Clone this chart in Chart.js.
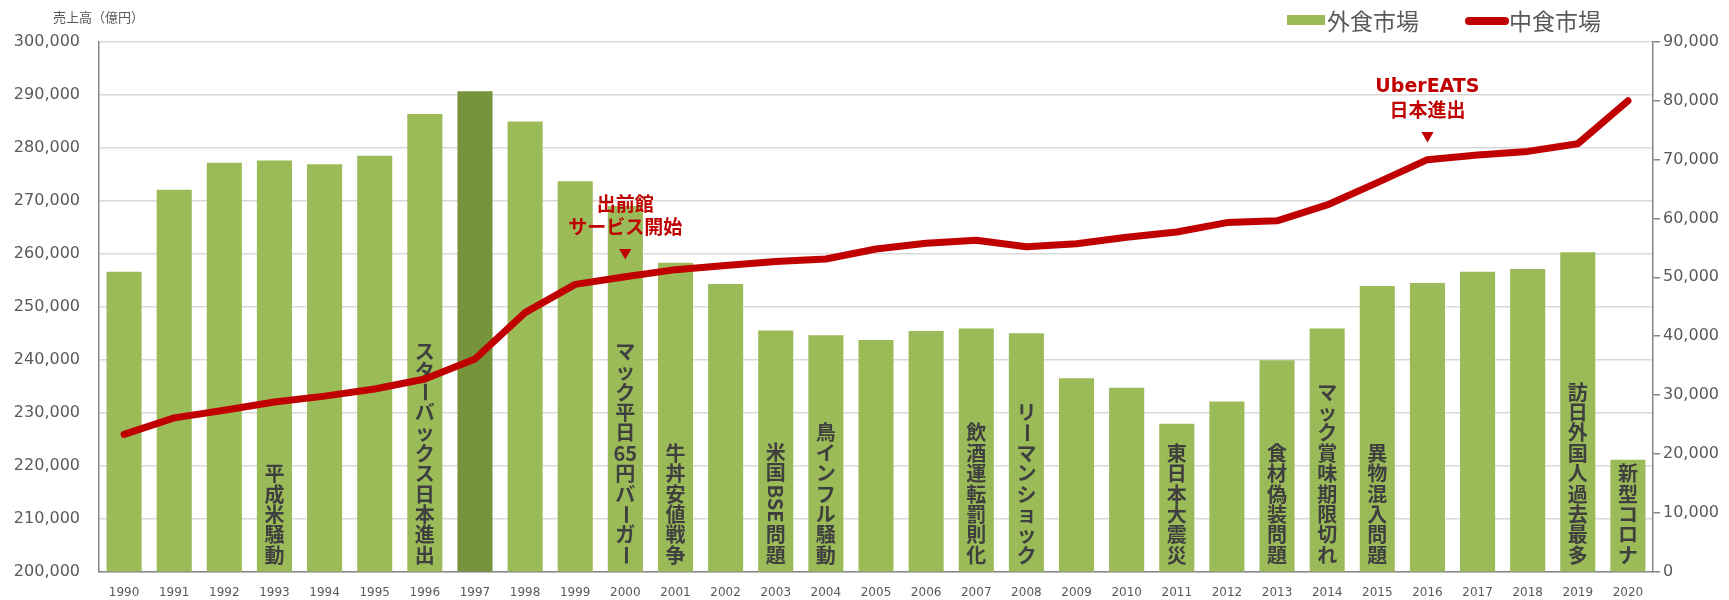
<!DOCTYPE html>
<html lang="ja">
<head>
<meta charset="utf-8">
<title>外食市場と中食市場の推移</title>
<script src="https://cdn.jsdelivr.net/npm/chart.js@4.4.1/dist/chart.umd.min.js"></script>
<style>
  html, body { margin: 0; padding: 0; background: #fff; }
  #wrap { width: 1729px; height: 600px; }
</style>
</head>
<body>
<div id="wrap"><canvas id="marketChart" width="1729" height="600"></canvas></div>
<script>
// Years (x axis)
const years = ["1990", "1991", "1992", "1993", "1994", "1995", "1996", "1997", "1998", "1999",
  "2000", "2001", "2002", "2003", "2004", "2005", "2006", "2007", "2008", "2009",
  "2010", "2011", "2012", "2013", "2014", "2015", "2016", "2017", "2018", "2019", "2020"];

// 外食市場 - bars, left axis (億円)
const gaishoku = [256600, 272100, 277200, 277600, 276900, 278500, 286400, 290700, 285000, 273700,
  269000, 258300, 254300, 245500, 244600, 243700, 245400, 245900, 245000, 236500,
  234700, 227900, 232100, 239900, 245900, 253900, 254500, 256600, 257100, 260300, 221100];

// 中食市場 - line, right axis (億円)
const nakashoku = [23300, 26100, 27400, 28800, 29800, 31000, 32700, 36100, 44000, 48800,
  50100, 51300, 52000, 52700, 53100, 54800, 55800, 56300, 55200, 55700,
  56800, 57700, 59300, 59600, 62300, 66100, 70000, 70800, 71400, 72700, 80000];

// events written vertically inside the bars
const eventYears = ["1993", "1996", "2000", "2001", "2003", "2004", "2007", "2008",
  "2011", "2013", "2014", "2015", "2019", "2020"];
const eventTexts = ["平成米騒動", "スターバックス日本進出", "マック平日65円バーガー", "牛丼安値戦争",
  "米国BSE問題", "鳥インフル騒動", "飲酒運転罰則化", "リーマンショック",
  "東日本大震災", "食材偽装問題", "マック賞味期限切れ", "異物混入問題", "訪日外国人過去最多", "新型コロナ"];

// red callouts above the line
const calloutYears = ["2000", "2016"];
const calloutTexts = [["出前館", "サービス開始"], ["UberEATS", "日本進出"]];

const highlightYear = "1997";
const leftMin = 200000, leftMax = 300000, leftStep = 10000;
const rightMin = 0, rightMax = 90000, rightStep = 10000;

const JP = "'Noto Sans CJK JP', sans-serif";
const LATIN = "'DejaVu Sans', sans-serif";
const GREEN = "#9BBB59";
const DARK_GREEN = "#77933C";
const RED = "#C00000";
const GREY_TEXT = "#595959";

// split a label into cells for vertical writing
function splitCells(text) {
  const cells = [];
  let i = 0;
  while (i < text.length) {
    const ch = text[i];
    if (/[0-9]/.test(ch)) {
      let j = i;
      while (j < text.length && /[0-9]/.test(text[j])) j++;
      cells.push({ text: text.slice(i, j), kind: "upright" });
      i = j;
    } else if (/[A-Za-z]/.test(ch)) {
      let j = i;
      while (j < text.length && /[A-Za-z]/.test(text[j])) j++;
      cells.push({ text: text.slice(i, j), kind: "sideways" });
      i = j;
    } else {
      cells.push({ text: ch, kind: ch === "ー" ? "turn" : "char" });
      i++;
    }
  }
  return cells;
}

// vertical event labels, drawn right after the bars (under the line)
const barNotes = {
  id: "barNotes",
  afterDatasetDraw(chart, args) {
    if (args.index !== 0) return;
    const { ctx, scales: { x, y } } = chart;
    const pitch = 20.4;
    ctx.save();
    ctx.fillStyle = "#3F3F3F";
    ctx.textAlign = "center";
    ctx.textBaseline = "middle";
    ctx.font = `bold 20px ${JP}`;
    eventYears.forEach((yr, k) => {
      const cx = x.getPixelForValue(years.indexOf(yr));
      const cells = splitCells(eventTexts[k]);
      let bottom = y.getPixelForValue(leftMin) - 6;
      for (let c = cells.length - 1; c >= 0; c--) {
        const cell = cells[c];
        let h = pitch;
        if (cell.kind === "sideways") h = ctx.measureText(cell.text).width + 4;
        const cy = bottom - h / 2;
        if (cell.kind === "sideways" || cell.kind === "turn") {
          ctx.save();
          ctx.translate(cx, cy);
          ctx.rotate(Math.PI / 2);
          ctx.fillText(cell.text, 0, 0);
          ctx.restore();
        } else {
          ctx.fillText(cell.text, cx, cy);
        }
        bottom -= h;
      }
    });
    ctx.restore();
  }
};

// red callouts, title and legend
const overlay = {
  id: "overlay",
  afterDraw(chart) {
    const { ctx, scales: { x, y1 } } = chart;
    ctx.save();
    ctx.textAlign = "center";
    ctx.textBaseline = "middle";
    ctx.fillStyle = RED;
    calloutYears.forEach((yr, k) => {
      const idx = years.indexOf(yr);
      const cx = x.getPixelForValue(idx);
      const ly = y1.getPixelForValue(nakashoku[idx]);
      ctx.font = `13px ${JP}`;
      ctx.fillText("▼", cx, ly - 24);
      const lines = calloutTexts[k];
      lines.forEach((t, n) => {
        const ascii = /^[\x00-\x7F]+$/.test(t);
        ctx.font = ascii ? `bold 19px ${LATIN}` : `bold 19px ${JP}`;
        ctx.fillText(t, cx, ly - 50 - (lines.length - 1 - n) * 23);
      });
    });

    // axis title
    ctx.textAlign = "left";
    ctx.fillStyle = GREY_TEXT;
    ctx.font = `13px ${JP}`;
    ctx.fillText("売上高（億円）", 53, 17);

    // legend
    ctx.fillStyle = GREEN;
    ctx.fillRect(1287, 15, 38, 10);
    ctx.fillStyle = GREY_TEXT;
    ctx.font = `23px ${JP}`;
    ctx.fillText("外食市場", 1327, 21);
    ctx.strokeStyle = RED;
    ctx.lineWidth = 8;
    ctx.lineCap = "round";
    ctx.beginPath();
    ctx.moveTo(1469, 21);
    ctx.lineTo(1505, 21);
    ctx.stroke();
    ctx.fillText("中食市場", 1509, 21);
    ctx.restore();
  }
};

const ctx = document.getElementById("marketChart").getContext("2d");
const marketChart = new Chart(ctx, {
  type: "bar",
  data: {
    labels: years,
    datasets: [
      {
        type: "bar",
        label: "外食市場",
        data: gaishoku,
        yAxisID: "y",
        backgroundColor: years.map((yr) => (yr === highlightYear ? DARK_GREEN : GREEN)),
        barPercentage: 0.7,
        categoryPercentage: 1.0,
        order: 2,
      },
      {
        type: "line",
        label: "中食市場",
        data: nakashoku,
        yAxisID: "y1",
        borderColor: RED,
        borderWidth: 7,
        borderJoinStyle: "round",
        borderCapStyle: "round",
        pointRadius: 0,
        tension: 0,
        fill: false,
        order: 1,
      },
    ],
  },
  options: {
    responsive: false,
    animation: false,
    layout: { padding: { top: 42, left: 0, right: 0, bottom: 0 } },
    plugins: {
      legend: { display: false },
      tooltip: { enabled: false },
    },
    scales: {
      x: {
        offset: true,
        grid: { display: false },
        border: { display: true, color: "#868686", width: 1.5 },
        ticks: {
          color: GREY_TEXT,
          font: { family: LATIN, size: 12 },
          padding: 6,
          maxRotation: 0,
          autoSkip: false,
        },
        afterFit(scale) { scale.height = 27; },
      },
      y: {
        position: "left",
        min: leftMin,
        max: leftMax,
        ticks: {
          stepSize: leftStep,
          color: GREY_TEXT,
          font: { family: LATIN, size: 16 },
          padding: 19,
          callback: (v) => v.toLocaleString("en-US"),
        },
        grid: { color: "#D9D9D9", lineWidth: 1.5, drawTicks: false },
        border: { color: "#868686", width: 1.5 },
        afterFit(scale) { scale.width = 99; },
      },
      y1: {
        position: "right",
        min: rightMin,
        max: rightMax,
        ticks: {
          stepSize: rightStep,
          color: GREY_TEXT,
          font: { family: LATIN, size: 16 },
          padding: 3,
          callback: (v) => v.toLocaleString("en-US"),
        },
        grid: { drawOnChartArea: false, drawTicks: true, tickLength: 7, color: "#868686", lineWidth: 1.5 },
        border: { color: "#868686", width: 1.5 },
        afterFit(scale) { scale.width = 76; },
      },
    },
  },
  plugins: [barNotes, overlay],
});
</script>
</body>
</html>
